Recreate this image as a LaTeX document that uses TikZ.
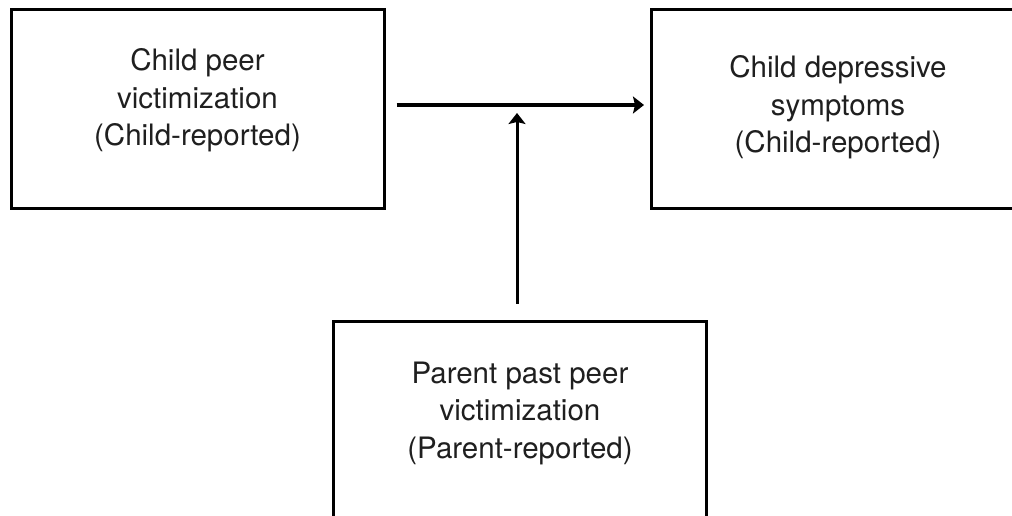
\documentclass[tikz,border=0pt]{standalone}
\usepackage{fontspec}
\setmainfont{TeX Gyre Heros}
\usetikzlibrary{arrows.meta}
\begin{document}
\begin{tikzpicture}[x=1pt,y=-1pt,
                    box/.style = {draw,line width=3pt,minimum width=373pt,minimum height=198pt,
                                  align=center,font=\fontsize{29.5}{37.5}\selectfont,text=black!88},
                    arrow/.style = {line width=4pt,-{Stealth[length=11pt,width=17pt,inset=2pt]}}]
                    \fill[white] (0,0) rectangle (1012,516);
                    \clip (0,0) rectangle (1012,516);

                    \node[box,text depth=24pt] (peer) at (197.5,109) {Child peer\\victimization\\(Child-reported)};
                    \node[box,text depth=10pt] (depr) at (838,109) {Child depressive\\symptoms\\(Child-reported)};
                    \node[box,text depth=20pt] (parent) at (520,420) {Parent past peer\\victimization\\(Parent-reported)};

                    \draw[arrow,shorten <=11pt,shorten >=6pt] ([yshift=4pt]peer.east) -- ([yshift=4pt]depr.west);
                    \draw[arrow,line width=3pt,shorten <=16pt,shorten >=8pt] ([xshift=-3pt]parent.north) -- ([xshift=-3pt,yshift=4pt]parent.north |- peer.east);
                \end{tikzpicture}
\end{document}
